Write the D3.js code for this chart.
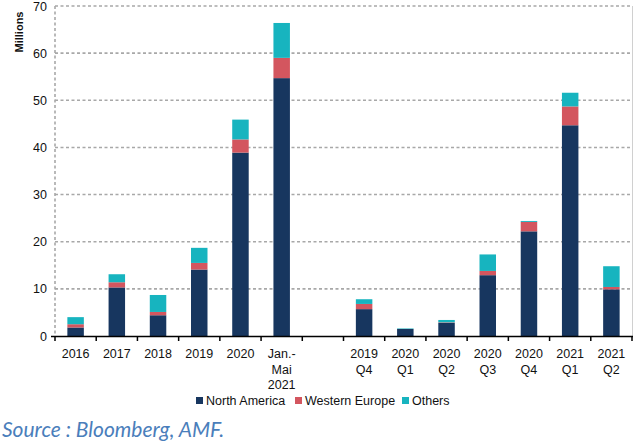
<!DOCTYPE html>
<html>
<head>
<meta charset="utf-8">
<script src="https://cdn.jsdelivr.net/npm/d3@7"></script>
<style>
  body { margin: 0; background: #fff; }
  svg { display: block; }
</style>
</head>
<body>
<svg id="chart" width="641" height="441"></svg>
<script>
const categories = ['2016', '2017', '2018', '2019', '2020', 'Jan.-|Mai|2021', '',
    '2019|Q4', '2020|Q1', '2020|Q2', '2020|Q3', '2020|Q4', '2021|Q1', '2021|Q2'];
const northAmerica = [1.8, 10.3, 4.4, 14.1, 38.9, 54.7, null, 5.7, 1.5, 2.8, 12.9, 22.2, 44.7, 9.9];
const westernEurope = [0.7, 1.1, 0.7, 1.4, 2.8, 4.3, null, 1.1, 0.0, 0.1, 0.9, 2.0, 4.0, 0.5];
const others = [1.5, 1.7, 3.6, 3.2, 4.2, 7.4, null, 1.0, 0.1, 0.5, 3.5, 0.2, 2.9, 4.4];
const seriesNames = ['North America', 'Western Europe', 'Others'];
const yTicks = [0, 10, 20, 30, 40, 50, 60, 70];

const COLORS = ['#17365f', '#d3565f', '#17b4bf'];
const PLOT_LEFT = 55;
const PLOT_RIGHT = 632;
const PLOT_TOP = 6;
const PLOT_BOTTOM = 336;
const FONT = 'Liberation Sans, Arial, sans-serif';

const svg = d3.select('#chart');
const g = svg.append('g');

const x = d3.scaleBand()
    .domain(d3.range(categories.length))
    .range([PLOT_LEFT, PLOT_RIGHT])
    .paddingInner(0.6)
    .paddingOuter(0.3);
const step = x.step();

const y = d3.scaleLinear().domain([0, 70]).range([PLOT_BOTTOM, PLOT_TOP]);

// 격자선 (점선)
g.append('g')
    .selectAll('line')
    .data(yTicks.filter(d => d > 0))
    .enter().append('line')
    .attr('x1', PLOT_LEFT)
    .attr('x2', PLOT_RIGHT)
    .attr('y1', d => y(d))
    .attr('y2', d => y(d))
    .attr('stroke', '#a8a8a8')
    .attr('stroke-width', 1.6)
    .attr('stroke-dasharray', '3 2.5');

// 세로축 점선
g.append('line')
    .attr('x1', PLOT_LEFT).attr('x2', PLOT_LEFT)
    .attr('y1', PLOT_TOP).attr('y2', PLOT_BOTTOM)
    .attr('stroke', '#a8a8a8')
    .attr('stroke-width', 1.6)
    .attr('stroke-dasharray', '3 2.5');

// 오른쪽 테두리
g.append('line')
    .attr('x1', PLOT_RIGHT + 0.5).attr('x2', PLOT_RIGHT + 0.5)
    .attr('y1', PLOT_TOP).attr('y2', PLOT_BOTTOM)
    .attr('stroke', '#d0d0d0');

// 누적 막대
const rows = categories.map((c, i) => ({
    i: i,
    'North America': northAmerica[i] || 0,
    'Western Europe': westernEurope[i] || 0,
    'Others': others[i] || 0
}));
const stacked = d3.stack().keys(seriesNames)(rows);

stacked.forEach(function (layer, k) {
    g.append('g')
        .attr('fill', COLORS[k])
        .selectAll('rect')
        .data(layer.filter(d => d[1] > d[0]))
        .enter().append('rect')
        .attr('x', d => x(d.data.i))
        .attr('width', x.bandwidth())
        .attr('y', d => y(d[1]))
        .attr('height', d => y(d[0]) - y(d[1]));
});

// 가로축
g.append('line')
    .attr('x1', PLOT_LEFT).attr('x2', PLOT_RIGHT + 1)
    .attr('y1', PLOT_BOTTOM + 0.5).attr('y2', PLOT_BOTTOM + 0.5)
    .attr('stroke', '#000').attr('stroke-width', 1.5);

// 가로축 눈금 (구간 경계)
g.append('g')
    .selectAll('line')
    .data(d3.range(categories.length + 1))
    .enter().append('line')
    .attr('x1', d => PLOT_LEFT + d * step)
    .attr('x2', d => PLOT_LEFT + d * step)
    .attr('y1', PLOT_BOTTOM)
    .attr('y2', PLOT_BOTTOM + 5)
    .attr('stroke', '#000')
    .attr('stroke-width', 1.5);

// 세로축 0 눈금
g.append('line')
    .attr('x1', PLOT_LEFT - 4).attr('x2', PLOT_LEFT)
    .attr('y1', PLOT_BOTTOM + 0.5).attr('y2', PLOT_BOTTOM + 0.5)
    .attr('stroke', '#000').attr('stroke-width', 1.5);

// 가로축 척도
categories.forEach(function (label, i) {
    const lines = label.split('|');
    const t = g.append('text')
        .attr('text-anchor', 'middle')
        .attr('font-family', FONT)
        .attr('font-size', 12.5)
        .attr('fill', '#111');
    lines.forEach(function (line, j) {
        t.append('tspan')
            .attr('x', x(i) + x.bandwidth() / 2)
            .attr('y', 358 + j * 15.5)
            .text(line);
    });
});

// 세로축 척도
g.append('g')
    .selectAll('text')
    .data(yTicks)
    .enter().append('text')
    .attr('x', 47)
    .attr('y', d => y(d) + 4.5)
    .attr('text-anchor', 'end')
    .attr('font-family', FONT)
    .attr('font-size', 12.5)
    .attr('fill', '#111')
    .text(d => d);

g.append('text')
    .attr('transform', 'translate(23,32) rotate(-90)')
    .attr('text-anchor', 'middle')
    .attr('font-family', FONT)
    .attr('font-size', 11)
    .attr('font-weight', 'bold')
    .attr('fill', '#111')
    .text('Millions');

// 범례
const legendX = [196, 295, 402];
seriesNames.forEach(function (name, k) {
    g.append('rect')
        .attr('x', legendX[k]).attr('y', 397)
        .attr('width', 7).attr('height', 7)
        .attr('fill', COLORS[k]);
    g.append('text')
        .attr('x', legendX[k] + 10)
        .attr('y', 405)
        .attr('font-family', FONT)
        .attr('font-size', 12.5)
        .attr('fill', '#111')
        .text(name);
});

// 출처
g.append('text')
    .attr('x', 2)
    .attr('y', 437)
    .attr('font-family', 'Lato, sans-serif')
    .attr('font-style', 'italic')
    .attr('font-size', 21)
    .attr('fill', '#4a7ebb')
    .text('Source : Bloomberg, AMF.');
</script>
</body>
</html>
